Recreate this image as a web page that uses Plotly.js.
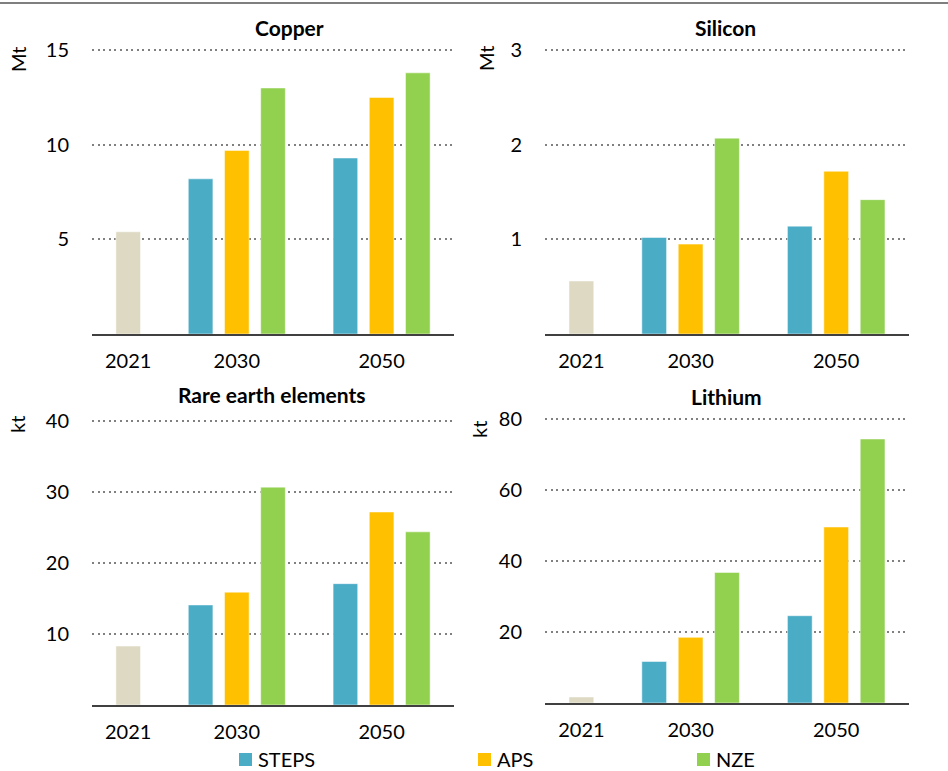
<!DOCTYPE html>
<html>
<head>
<meta charset="utf-8">
<script src="https://cdn.plot.ly/plotly-3.0.1.min.js"></script>
<style>html,body{margin:0;padding:0;background:#fff;}#chart{width:948px;height:771px;}</style>
</head>
<body>
<div id="chart"></div>
<script>
// ---- data ----
const minerals = ['Copper', 'Silicon', 'Rare earth elements', 'Lithium'];
const units = ['Mt', 'Mt', 'kt', 'kt'];
const years = ['2021', '2030', '2050'];
const scenarios = ['STEPS', 'APS', 'NZE'];
const historical2021 = [5.4, 0.56, 8.3, 1.7];
const steps2030 = [8.2, 1.02, 14.1, 11.7];
const aps2030   = [9.7, 0.95, 15.9, 18.5];
const nze2030   = [13.0, 2.07, 30.7, 36.8];
const steps2050 = [9.3, 1.14, 17.1, 24.6];
const aps2050   = [12.5, 1.72, 27.2, 49.6];
const nze2050   = [13.8, 1.42, 24.4, 74.4];
const yTickValues = [[5, 10, 15], [1, 2, 3], [10, 20, 30, 40], [20, 40, 60, 80]];

// ---- styling / layout ----
const histColor = '#DDD9C3';
const scenarioColors = ['#4BACC6', '#FFC000', '#92D050'];
const W = 948, H = 771;
const yearCenter = {'2021': 1, '2030': 4, '2050': 8};
const scenarioOffset = [-1, 0, 1];
const font = 'Lato, "Open Sans", sans-serif';
// pixel boxes [left, right, top, bottom]
const boxes = [[92, 454, 49, 334], [545, 909, 49, 334], [92, 454, 420, 705], [545, 909, 418, 703]];
const titlePos = [[289, 28], [725, 28], [272, 395], [726, 397]];
const unitPos = [[18, 60], [486, 58], [17, 425], [479, 430]];

const scenarioData = [
  [steps2030, steps2050],
  [aps2030, aps2050],
  [nze2030, nze2050]
];

const traces = [];
const layout = {
  width: W, height: H,
  margin: {l: 0, r: 0, t: 0, b: 0},
  paper_bgcolor: '#fff', plot_bgcolor: 'rgba(0,0,0,0)',
  showlegend: false,
  bargap: 0,
  font: {family: font, size: 20, color: '#000'},
  annotations: [],
  shapes: [
    {type: 'line', xref: 'paper', yref: 'paper', x0: 0, x1: 1, y0: 1 - 3 / H, y1: 1 - 3 / H,
     line: {color: '#7f7f7f', width: 2}}
  ]
};

minerals.forEach((m, i) => {
  const ax = i === 0 ? '' : String(i + 1);
  const xa = 'x' + ax, ya = 'y' + ax;
  traces.push({
    type: 'bar', name: '2021', x: [yearCenter['2021']], y: [historical2021[i]],
    xaxis: xa, yaxis: ya, width: 0.68,
    marker: {color: histColor, line: {color: '#fff', width: 0.5}},
    hoverinfo: 'y'
  });
  scenarios.forEach((s, k) => {
    traces.push({
      type: 'bar', name: s,
      x: [yearCenter['2030'] + scenarioOffset[k], yearCenter['2050'] + scenarioOffset[k]],
      y: [scenarioData[k][0][i], scenarioData[k][1][i]],
      xaxis: xa, yaxis: ya, width: 0.68,
      marker: {color: scenarioColors[k], line: {color: '#fff', width: 0.5}},
      hoverinfo: 'y'
    });
  });
  const b = boxes[i];
  const maxTick = yTickValues[i][yTickValues[i].length - 1];
  layout['xaxis' + ax] = {
    domain: [b[0] / W, b[1] / W], anchor: ya,
    range: [0, 10], tickvals: years.map(y => yearCenter[y]), ticktext: years,
    showgrid: false, zeroline: false, showline: true, linecolor: '#404040', linewidth: 1.5,
    ticks: '', ticklabelstandoff: 8, tickfont: {family: font, size: 20, color: '#000'},
    fixedrange: true
  };
  layout['yaxis' + ax] = {
    domain: [1 - b[3] / H, 1 - b[2] / H], anchor: xa,
    range: [0, maxTick * 1.004], tickvals: yTickValues[i],
    showgrid: true, gridcolor: '#808080', gridwidth: 2, griddash: '2px,3.6px',
    zeroline: false, showline: false, ticks: '', ticklabelstandoff: 22,
    tickfont: {family: font, size: 20, color: '#000'}, fixedrange: true
  };
  layout.annotations.push({
    xref: 'paper', yref: 'paper', x: titlePos[i][0] / W, y: 1 - titlePos[i][1] / H,
    xanchor: 'center', yanchor: 'middle', showarrow: false,
    text: '<b>' + m + '</b>', font: {family: font, size: 21, color: '#000'}
  });
  layout.annotations.push({
    xref: 'paper', yref: 'paper', x: unitPos[i][0] / W, y: 1 - unitPos[i][1] / H,
    xanchor: 'center', yanchor: 'middle', showarrow: false, textangle: -90,
    text: units[i], font: {family: font, size: 20, color: '#000'}
  });
});

// legend (custom drawn)
const legendX = [239, 478, 697];
scenarios.forEach((s, k) => {
  const x0 = legendX[k];
  layout.shapes.push({
    type: 'rect', xref: 'paper', yref: 'paper',
    x0: x0 / W, x1: (x0 + 13) / W, y0: 1 - 766 / H, y1: 1 - 753 / H,
    fillcolor: scenarioColors[k], line: {width: 0}
  });
  layout.annotations.push({
    xref: 'paper', yref: 'paper', x: (x0 + 17) / W, y: 1 - 759 / H,
    xanchor: 'left', yanchor: 'middle', showarrow: false,
    text: s, font: {family: font, size: 20, color: '#000'}
  });
});

Plotly.newPlot('chart', traces, layout, {displayModeBar: false, staticPlot: true});
</script>
</body>
</html>
